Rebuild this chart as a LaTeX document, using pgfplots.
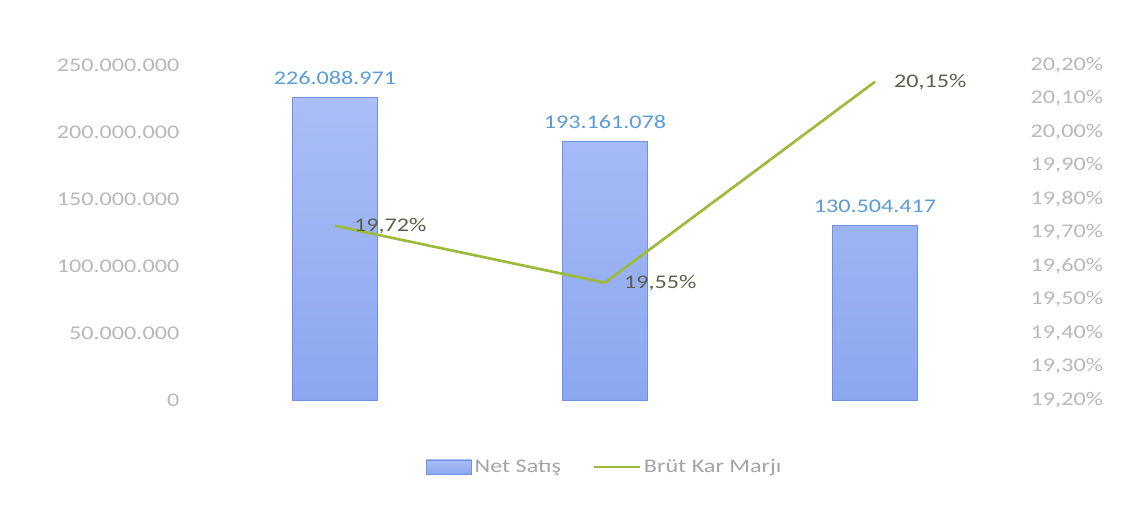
\documentclass[border=0pt]{standalone}
\usepackage{pgfplots}
\pgfplotsset{compat=1.18}
\usepackage{fontspec}
\setmainfont{Carlito}[FakeStretch=1.25]
\definecolor{barTop}{HTML}{AABEF7}
\definecolor{barBot}{HTML}{8BA7F0}
\definecolor{barEdge}{HTML}{6F90E3}
\definecolor{lineGreen}{HTML}{9DBB3B}
\definecolor{tickGray}{HTML}{B8B8B8}
\definecolor{barLbl}{HTML}{5A9BD8}
\definecolor{lineLbl}{HTML}{5E5F48}
\definecolor{legGray}{HTML}{A4A4A4}

\pgfplotsset{
  base/.style={
    at={(150pt,83.25pt)}, anchor=south west,
    scale only axis, width=607.5pt, height=251.25pt,
    xmin=-0.5, xmax=2.5, xtick=\empty,
    axis line style={draw=none},
    major tick length=0pt,
    scaled y ticks=false,
    tick label style={font=\fontsize{14.5}{17}\selectfont, text=tickGray},
  },
  boxlegend/.style={legend image code/.code={\draw[##1] (0cm,-0.19cm) rectangle (1.2cm,0.19cm);}},
  linelegend/.style={legend image code/.code={\draw[##1] (0cm,0cm) -- (1.2cm,0cm);}},
}

\begin{document}
\begin{tikzpicture}
\path[use as bounding box] (0,0) rectangle (847.5pt,383.25pt);
% left axis: Net Satis bars
\begin{axis}[base,
  ymin=0, ymax=250000000,
  ytick={0,50000000,100000000,150000000,200000000,250000000},
  yticklabels={0,50.000.000,100.000.000,150.000.000,200.000.000,250.000.000},
  yticklabel style={xshift=-12pt},
  legend style={at={(0.5,-0.2)}, anchor=center, legend columns=2, draw=none, fill=none,
    font=\fontsize{14.5}{17}\selectfont, text=legGray,
    /tikz/every even column/.append style={column sep=22pt}},
  ]
\addplot[ybar, bar width=63.75pt, draw=barEdge, top color=barTop, bottom color=barBot, boxlegend]
  coordinates {(0,226088971) (1,193161078) (2,130504417)};
\addlegendentry{Net Satış}
\addlegendimage{lineGreen, line width=2pt, linelegend}
\addlegendentry{Brüt Kar Marjı}
% bar value labels
\addplot[draw=none, mark=none, forget plot, point meta=explicit symbolic,
  nodes near coords, nodes near coords style={anchor=south, yshift=6pt, text=barLbl,
    font=\fontsize{14.5}{17}\selectfont}]
  coordinates {(0,226088971)[226.088.971] (1,193161078)[193.161.078] (2,130504417)[130.504.417]};
\end{axis}
% right axis: Brut Kar Marji line
\begin{axis}[base,
  axis y line*=right,
  ymin=19.2, ymax=20.2,
  ytick={19.2,19.3,19.4,19.5,19.6,19.7,19.8,19.9,20.0,20.1,20.2},
  yticklabels={{19,20\%},{19,30\%},{19,40\%},{19,50\%},{19,60\%},{19,70\%},{19,80\%},{19,90\%},{20,00\%},{20,10\%},{20,20\%}},
  yticklabel style={xshift=12pt},
  ]
\addplot[lineGreen, line width=2pt, mark=none, point meta=explicit symbolic,
  nodes near coords, nodes near coords style={anchor=west, xshift=10pt, text=lineLbl,
    font=\fontsize{14.5}{17}\selectfont}]
  coordinates {(0,19.72)[{19,72\%}] (1,19.55)[{19,55\%}] (2,20.15)[{20,15\%}]};
\end{axis}
\end{tikzpicture}
\end{document}
